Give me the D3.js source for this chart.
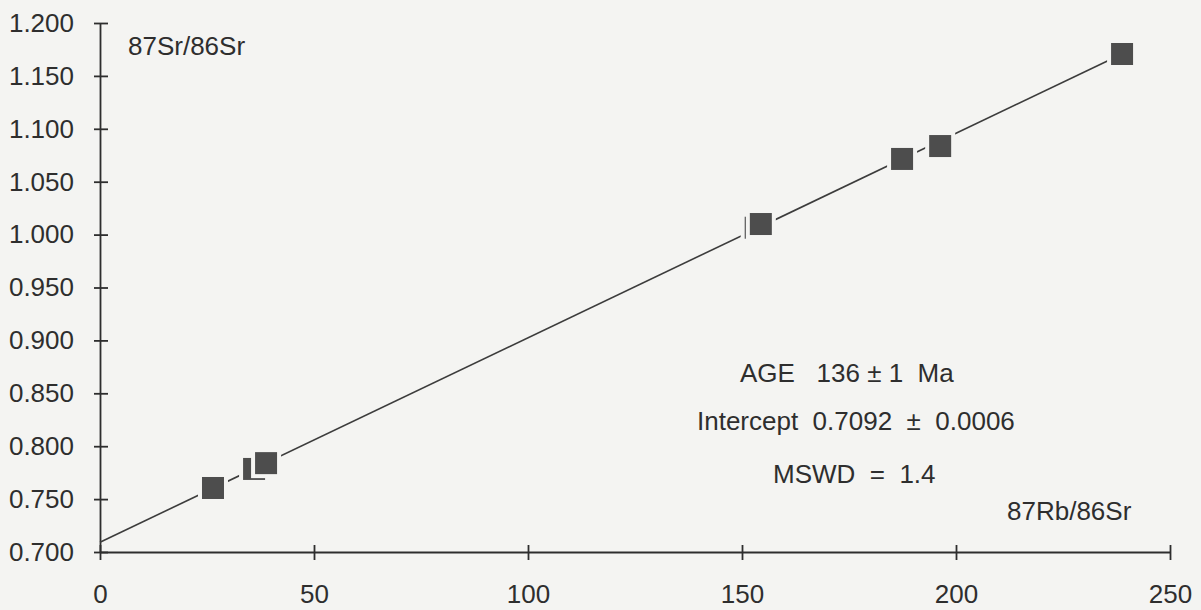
<!DOCTYPE html>
<html>
<head>
<meta charset="utf-8">
<script src="https://cdn.jsdelivr.net/npm/d3@7"></script>
<style>
  body { margin: 0; background: #f4f4f2; }
  text { font-family: "Liberation Sans", Arial, sans-serif; fill: #2e2e2e; white-space: pre; }
</style>
</head>
<body>
<script>
// isochron points, 87Rb/86Sr vs 87Sr/86Sr
var rbSr = [26.4, 36.0, 38.8, 153.2, 154.4, 187.4, 196.3, 238.8];
var srSr = [0.7605, 0.7785, 0.7840, 1.0065, 1.0100, 1.0715, 1.0837, 1.1707];

// fitted line end points
var lineRb = [0, 238.8];
var lineSr = [0.7092, 1.1707];

var xTicks = [0, 50, 100, 150, 200, 250];
var yTicks = [0.700, 0.750, 0.800, 0.850, 0.900, 0.950, 1.000, 1.050, 1.100, 1.150, 1.200];

var ageText = "AGE   136 ± 1  Ma";
var interceptText = "Intercept  0.7092  ±  0.0006";
var mswdText = "MSWD  =  1.4";

var width = 1201;
var height = 610;

var svg = d3.select("body")
    .append("svg")
        .attr("width", width)
        .attr("height", height);

var x = d3.scaleLinear()
    .domain([0, 250])
    .range([100, 1170]);

var y = d3.scaleLinear()
    .domain([0.7, 1.2])
    .range([552, 23]);

// axes
var leftAxis = d3.axisLeft(y)
    .tickValues(yTicks)
    .tickSize(0)
    .tickSizeOuter(0)
    .tickPadding(26)
    .tickFormat(d3.format(".3f"));

var gy = svg.append("g")
    .attr("class", "left axis")
    .attr("transform", "translate(" + x(0) + ",0)")
    .call(leftAxis);
gy.selectAll(".tick line")
    .attr("x1", -6)
    .attr("x2", 8);

var bottomAxis = d3.axisBottom(x)
    .tickValues(xTicks)
    .tickSize(0)
    .tickSizeOuter(0)
    .tickPadding(33)
    .tickFormat(d3.format("d"));

var gx = svg.append("g")
    .attr("class", "bottom axis")
    .attr("transform", "translate(0," + y(0.7) + ")")
    .call(bottomAxis);
gx.selectAll(".tick line")
    .attr("y1", -7)
    .attr("y2", 8);

svg.selectAll(".axis path, .axis line")
    .attr("stroke", "#2e2e2e")
    .attr("stroke-width", 1.8);
svg.selectAll(".axis").attr("font-size", "26px");
svg.selectAll(".axis text")
    .attr("font-size", "26px")
    .attr("font-family", "'Liberation Sans', Arial, sans-serif")
    .attr("fill", "#2e2e2e");

// regression line
var line = d3.line()
    .x((d) => { return x(d[0]); })
    .y((d) => { return y(d[1]); });

svg.append("path")
    .datum(d3.zip(lineRb, lineSr))
    .attr("d", line)
    .attr("fill", "none")
    .attr("stroke", "#3c3c3c")
    .attr("stroke-width", 1.6);

// markers
var size = 22;
svg.selectAll("rect.pt")
    .data(d3.zip(rbSr, srSr))
    .enter()
    .append("rect")
        .attr("class", "pt")
        .attr("x", (d) => { return x(d[0]) - size / 2 - 2; })
        .attr("y", (d) => { return y(d[1]) - size / 2 - 2; })
        .attr("width", size + 4)
        .attr("height", size + 4)
        .attr("fill", "#4d4d4d")
        .attr("stroke", "#f4f4f2")
        .attr("stroke-width", 4);

// labels
svg.append("text")
    .attr("x", 128)
    .attr("y", 55)
    .attr("font-size", "26px")
    .text("87Sr/86Sr");

svg.append("text")
    .attr("x", 1007)
    .attr("y", 520)
    .attr("font-size", "26px")
    .text("87Rb/86Sr");

svg.append("text")
    .attr("x", 740)
    .attr("y", 382)
    .attr("font-size", "26px")
    .text(ageText);

svg.append("text")
    .attr("x", 697)
    .attr("y", 430)
    .attr("font-size", "26px")
    .text(interceptText);

svg.append("text")
    .attr("x", 773)
    .attr("y", 483)
    .attr("font-size", "26px")
    .text(mswdText);
</script>
</body>
</html>
